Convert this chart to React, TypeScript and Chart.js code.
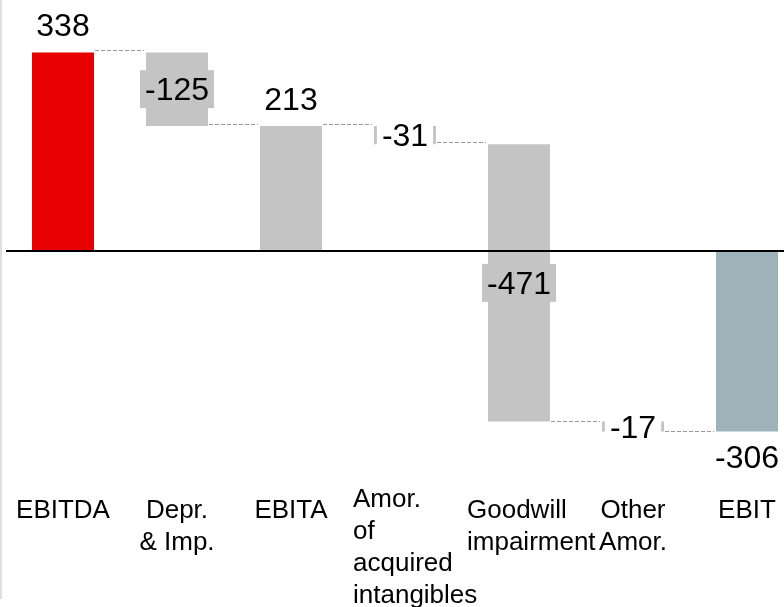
import React, { useEffect, useRef } from "react";
import { Chart, registerables } from "chart.js";

Chart.register(...registerables);

const categories: string[][] = [
  ["EBITDA"],
  ["Depr.", "& Imp."],
  ["EBITA"],
  ["Amor.", "of", "acquired", "intangibles"],
  ["Goodwill", "impairment"],
  ["Other", "Amor."],
  ["EBIT"],
];
const values: number[] = [338, -125, 213, -31, -471, -17, -306];
const isTotal: boolean[] = [true, false, true, false, false, false, true];
const barColors: string[] = [
  "#E60000",
  "#C4C4C4",
  "#C4C4C4",
  "#C4C4C4",
  "#C4C4C4",
  "#C4C4C4",
  "#9DB2B9",
];
const yMin = -604;
const yMax = 427;

const FONT = '"Liberation Sans", Arial, Helvetica, sans-serif';

export default function App() {
  const ref = useRef<HTMLCanvasElement | null>(null);

  useEffect(() => {
    if (!ref.current) return;
    let run = 0;
    const ranges: number[][] = values.map((v, i) => {
      if (isTotal[i]) {
        run = v;
        return [0, v];
      }
      const s = run;
      run = run + v;
      return [s, run];
    });
    const ends = ranges.map((r) => r[1]);

    const decor = {
      id: "waterfallDecor",
      afterDatasetsDraw(chart: any) {
        const ctx: CanvasRenderingContext2D = chart.ctx;
        const ys = chart.scales.y;
        const xs = chart.scales.x;
        const meta = chart.getDatasetMeta(0);
        const area = chart.chartArea;
        const H = chart.height;
        const els = meta.data.map((el: any) =>
          el.getProps(["x", "y", "base", "width"], true)
        );
        ctx.save();

        // left frame line
        ctx.fillStyle = "#dedede";
        ctx.fillRect(0, 0, 2, H - 8);

        // zero line
        const y0 = ys.getPixelForValue(0);
        ctx.fillStyle = "#000";
        ctx.fillRect(area.left, Math.round(y0) - 1, chart.width - area.left, 2);

        // connectors
        ctx.strokeStyle = "#9a9a9a";
        ctx.lineWidth = 1;
        ctx.setLineDash([4, 2]);
        for (let i = 0; i < els.length - 1; i++) {
          const a = els[i];
          const b = els[i + 1];
          const yy = Math.round(ys.getPixelForValue(ends[i])) - 0.5 - (ends[i] > 0 ? 1 : 0);
          ctx.beginPath();
          ctx.moveTo(a.x + a.width / 2 + 1, yy);
          ctx.lineTo(b.x - b.width / 2 - 2, yy);
          ctx.stroke();
        }
        ctx.setLineDash([]);

        // value labels
        ctx.font = `32px ${FONT}`;
        ctx.textAlign = "center";
        ctx.textBaseline = "alphabetic";
        for (let i = 0; i < els.length; i++) {
          const e = els[i];
          const top = Math.min(e.y, e.base);
          const bot = Math.max(e.y, e.base);
          const txt = String(values[i]);
          if (isTotal[i]) {
            ctx.fillStyle = "#000";
            if (values[i] >= 0) ctx.fillText(txt, e.x, top - 16);
            else ctx.fillText(txt, e.x, bot + 36);
          } else {
            const w = ctx.measureText(txt).width + 10;
            const h = 38;
            const cy = (top + bot) / 2;
            ctx.fillStyle = bot - top > h ? barColors[i] : "#ffffff";
            ctx.fillRect(e.x - w / 2, cy - h / 2, w, h);
            ctx.fillStyle = "#000";
            ctx.fillText(txt, e.x, cy + 11);
          }
        }

        // category labels
        ctx.font = `26px ${FONT}`;
        const slot = xs.width / categories.length;
        const lineH = 32;
        for (let i = 0; i < els.length; i++) {
          const lines = categories[i];
          const cx = els[i].x;
          const base0 = Math.min(518, H - 4 - (lines.length - 1) * lineH);
          const overflow = lines.some((l) => ctx.measureText(l).width > slot);
          lines.forEach((l, k) => {
            const by = base0 + k * lineH;
            if (overflow) {
              ctx.textAlign = "left";
              ctx.fillText(l, cx - (slot - 10) / 2, by);
            } else {
              ctx.textAlign = "center";
              ctx.fillText(l, cx, by);
            }
          });
        }
        ctx.restore();
      },
    };

    const chart = new Chart(ref.current, {
      type: "bar",
      data: {
        labels: categories.map((c) => c.join(" ")),
        datasets: [
          {
            data: ranges as any,
            backgroundColor: barColors,
            borderWidth: 0,
            categoryPercentage: 1,
            barPercentage: 62 / 114,
          },
        ],
      },
      options: {
        responsive: false,
        animation: false,
        events: [],
        layout: { padding: { left: 6, right: 6, top: 0, bottom: 0 } },
        plugins: {
          legend: { display: false },
          tooltip: { enabled: false },
        },
        scales: {
          x: { display: false, offset: true, grid: { display: false } },
          y: { display: false, min: yMin, max: yMax },
        },
      },
      plugins: [decor],
    });
    return () => chart.destroy();
  }, []);

  return (
    <div
      style={{
        position: "absolute",
        left: 0,
        top: 0,
        width: 784,
        height: 607,
        overflow: "hidden",
        background: "#fff",
      }}
    >
      <canvas ref={ref} width={810} height={607} style={{ display: "block" }} />
    </div>
  );
}
